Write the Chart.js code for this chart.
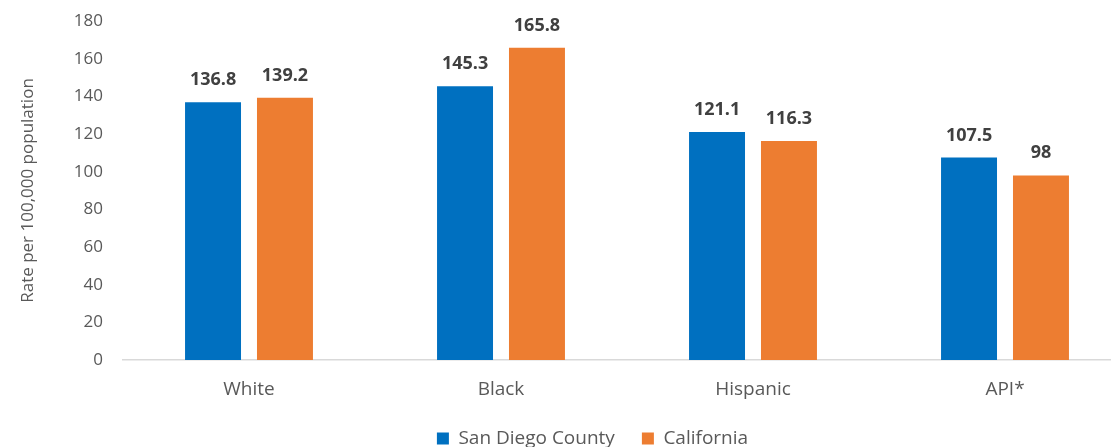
<!DOCTYPE html>
<html>
<head>
<meta charset="utf-8">
<script src="https://cdn.jsdelivr.net/npm/chart.js@4/dist/chart.umd.min.js"></script>
<style>
  html, body { margin: 0; padding: 0; background: #fff; overflow: hidden; }
  #wrap { width: 1176px; height: 458px; }
</style>
</head>
<body>
<div id="wrap"><canvas id="rateChart" width="1176" height="458"></canvas></div>
<script>
// data
const categories = ["White", "Black", "Hispanic", "API*"];
const sanDiego = [136.8, 145.3, 121.1, 107.5];
const california = [139.2, 165.8, 116.3, 98];
const yTicks = [0, 20, 40, 60, 80, 100, 120, 140, 160, 180];

const FONT = "'Open Sans', 'Noto Sans', sans-serif";
const GREY = "#595959";

// value labels above each bar
const barLabels = {
  id: "barLabels",
  afterDatasetsDraw(chart) {
    const ctx = chart.ctx;
    ctx.save();
    ctx.font = "bold 18px " + FONT;
    ctx.fillStyle = "#404040";
    ctx.textAlign = "center";
    ctx.textBaseline = "alphabetic";
    chart.data.datasets.forEach((ds, i) => {
      chart.getDatasetMeta(i).data.forEach((bar, j) => {
        ctx.fillText(String(ds.data[j]), bar.x, bar.y - 17);
      });
    });
    ctx.restore();
  }
};

new Chart(document.getElementById("rateChart"), {
  type: "bar",
  data: {
    labels: categories,
    datasets: [
      {
        label: "San Diego County",
        data: sanDiego,
        backgroundColor: "#0070C0",
        categoryPercentage: 0.571,
        barPercentage: 0.778
      },
      {
        label: "California",
        data: california,
        backgroundColor: "#ED7D31",
        categoryPercentage: 0.571,
        barPercentage: 0.778
      }
    ]
  },
  options: {
    responsive: false,
    animation: false,
    // extra left padding only nudges the legend to its place
    layout: { padding: { top: 21, right: 45, left: 54, bottom: 0 } },
    plugins: {
      tooltip: { enabled: false },
      legend: {
        position: "bottom",
        labels: {
          boxWidth: 12,
          boxHeight: 12,
          padding: 27,
          color: GREY,
          font: { family: FONT, size: 19 }
        }
      }
    },
    scales: {
      x: {
        grid: { display: false, drawTicks: false },
        border: { display: true, color: "#D9D9D9", width: 1.5 },
        ticks: { color: GREY, font: { family: FONT, size: 19 }, padding: 18 },
        afterFit(scale) { scale.height = 42; }
      },
      y: {
        min: 0,
        max: 180,
        afterBuildTicks(scale) { scale.ticks = yTicks.map(v => ({ value: v })); },
        grid: { display: false, drawTicks: true, tickLength: 20 },
        border: { display: false },
        ticks: { color: GREY, font: { family: FONT, size: 17 }, padding: 0 },
        title: {
          display: true,
          text: "Rate per 100,000 population",
          color: GREY,
          font: { family: FONT, size: 17 },
          padding: { top: -36, bottom: 0 }
        },
        afterFit(scale) { scale.width = 69; }
      }
    }
  },
  plugins: [barLabels]
});
</script>
</body>
</html>
